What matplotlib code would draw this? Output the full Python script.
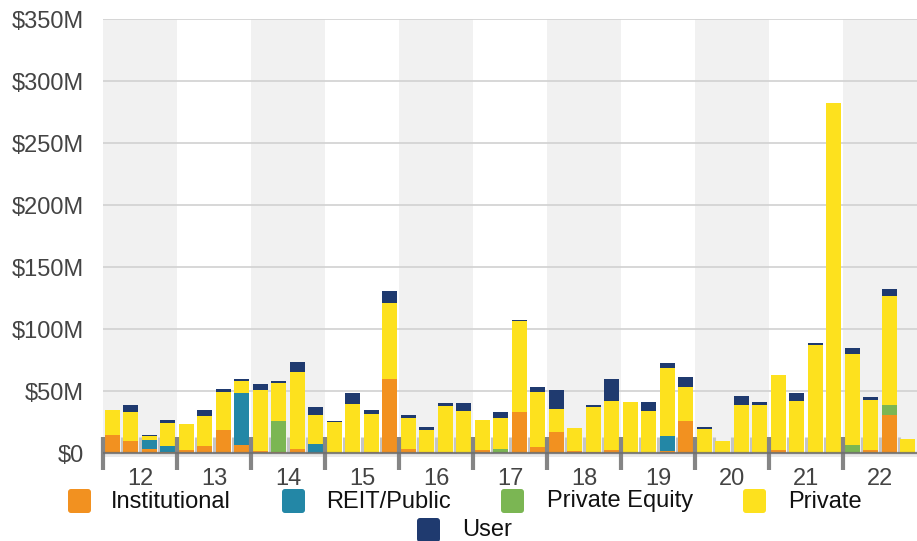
import numpy as np
import matplotlib
matplotlib.use("Agg")
import matplotlib.pyplot as plt
from matplotlib.patches import FancyBboxPatch

plt.rcParams["font.family"] = ["Liberation Sans", "DejaVu Sans"]

# 季度数据（百万美元），每年4个季度，2012-2022
years = ["12", "13", "14", "15", "16", "17", "18", "19", "20", "21", "22"]
categories = ["Institutional", "REIT/Public", "Private Equity", "Private", "User"]
colors = ["#F29120", "#2387A6", "#7BB653", "#FDE11E", "#1F3A6F"]

institutional = [14.4, 9.5, 3.0, 0.5, 2.2, 5.4, 18.4, 6.2, 1.4, 1.1, 3.0, 0.0,
                 0.3, 0.0, 0.5, 59.9, 3.0, 0.5, 0.5, 0.0, 2.2, 0.0, 33.1, 4.6,
                 16.8, 1.4, 0.5, 2.2, 0.0, 0.0, 1.4, 25.7, 0.0, 0.0, 0.0, 0.0,
                 2.2, 0.0, 0.0, 0.0, 0.0, 2.7, 30.4, 0.0]
reit = [0.0, 0.0, 7.3, 5.4, 0.0, 0.0, 0.0, 42.3, 0.0, 0.0, 0.0, 7.0,
        0.0, 0.0, 0.0, 0.0, 0.0, 0.0, 0.0, 0.0, 0.0, 0.0, 0.0, 0.0,
        0.0, 0.0, 0.0, 0.0, 0.0, 0.0, 12.2, 0.0, 0.0, 0.0, 0.0, 0.0,
        0.0, 0.0, 0.0, 0.0, 0.0, 0.0, 0.0, 0.0]
private_equity = [0.0, 0.0, 0.0, 0.0, 0.0, 0.0, 0.0, 0.0, 0.0, 24.7, 0.0, 0.0,
                  0.0, 0.0, 0.0, 0.0, 0.0, 0.0, 0.0, 0.0, 0.0, 3.0, 0.0, 0.0,
                  0.0, 0.0, 0.0, 0.0, 0.0, 0.0, 0.0, 0.0, 0.0, 0.0, 0.0, 0.0,
                  0.0, 0.0, 0.0, 0.0, 6.8, 0.0, 8.1, 0.0]
private = [20.3, 23.6, 3.3, 18.7, 21.1, 24.4, 30.9, 9.8, 49.6, 30.9, 62.6, 23.6,
           24.9, 39.6, 30.9, 61.0, 25.2, 18.4, 37.1, 33.9, 24.4, 25.2, 73.2, 44.7,
           18.7, 18.7, 36.3, 39.8, 41.2, 33.9, 55.3, 27.6, 19.2, 9.5, 38.8, 38.8,
           61.0, 42.0, 87.5, 282.0, 73.2, 39.8, 87.8, 11.7]
user = [0.0, 5.7, 0.8, 2.4, 0.0, 4.9, 2.4, 1.6, 4.9, 1.6, 8.1, 6.5,
        0.8, 8.9, 3.3, 9.8, 2.4, 2.4, 2.4, 6.5, 0.0, 4.9, 0.8, 4.1,
        15.4, 0.0, 1.6, 17.9, 0.0, 7.3, 4.1, 8.1, 1.6, 0.0, 7.3, 2.4,
        0.0, 6.5, 1.6, 0.0, 4.9, 2.4, 5.7, 0.0]

series = [institutional, reit, private_equity, private, user]
yticks = [0, 50, 100, 150, 200, 250, 300, 350]
ytick_labels = ["$0", "$50M", "$100M", "$150M", "$200M", "$250M", "$300M", "$350M"]

W, H = 917, 541
fig = plt.figure(figsize=(W / 100, H / 100), dpi=100)
ax = fig.add_axes([103 / W, 1 - 457 / H, (W - 103) / W, (457 - 19) / H])

n = len(private)
x = np.arange(n) + 0.5
ax.set_xlim(0, n)
ax.set_ylim(-3.2, 350)

# 年份背景条
for i in range(len(years)):
    if i % 2 == 0:
        ax.axvspan(4 * i, 4 * i + 4, color="#F1F1F1", lw=0, zorder=0)
ax.axhspan(-3.2, 0, color="#E9E9E9", lw=0, zorder=0.5)

for v in yticks[1:]:
    ax.axhline(v, color="#D4D4D4", lw=1.3, zorder=1)

# 堆叠柱状图
bottom = np.zeros(n)
for vals, c, name in zip(series, colors, categories):
    vals = np.array(vals)
    ax.bar(x, vals, width=0.81, bottom=bottom, color=c, lw=0, zorder=3, label=name)
    bottom += vals

# 季度分隔小刻度和年份刻度
for i in range(1, n):
    if i % 4 == 0:
        continue
    ax.plot([i, i], [0, 13], color="#C4C4C4", lw=2.2, zorder=2, solid_capstyle="butt")
for i in range(len(years)):
    ax.plot([4 * i, 4 * i], [-13.8, 13], color="#858585", lw=3, zorder=4,
            clip_on=False, solid_capstyle="butt")
ax.axhline(0, color="#6E6E6E", lw=1.6, alpha=0.85, zorder=4)

ax.set_yticks(yticks)
ax.set_yticklabels(ytick_labels)
ax.set_xticks([4 * i + 2 for i in range(len(years))])
ax.set_xticklabels(years)
ax.tick_params(axis="y", length=0, pad=14, labelsize=17, labelcolor="#444444")
ax.tick_params(axis="x", length=0, pad=8, labelsize=17, labelcolor="#444444")
for s in ax.spines.values():
    s.set_visible(False)

# 图例
lax = fig.add_axes([0, 0, 1, 1])
lax.set_xlim(0, W)
lax.set_ylim(H, 0)
lax.axis("off")
legend_pos = [(68, 489, 111), (282, 489, 326), (501, 489, 547), (743, 489, 788), (417, 518, 462)]
for (px, py, tx), c, name in zip(legend_pos, colors, categories):
    lax.add_patch(FancyBboxPatch((px, py), 23, 24, boxstyle="round,pad=0,rounding_size=3",
                                 fc=c, ec="none"))
    lax.text(tx, py + 12.5, name, fontsize=17, color="#111111", va="center", ha="left")

fig.savefig("out.png", dpi=100)
